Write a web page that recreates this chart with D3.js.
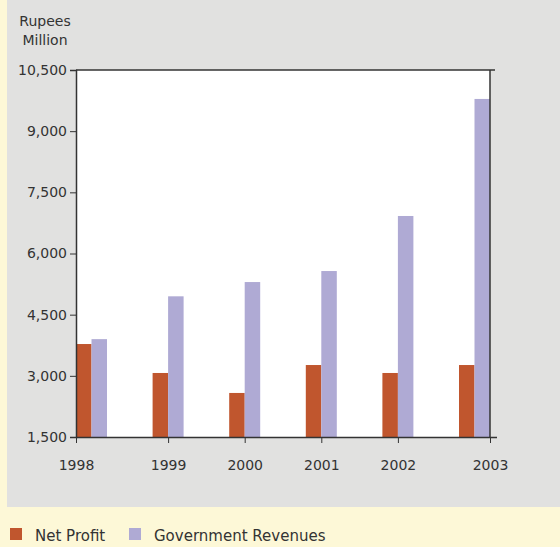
<!DOCTYPE html>
<html>
<head>
<meta charset="utf-8">
<script src="https://cdn.jsdelivr.net/npm/d3@7"></script>
<style>
  html, body { margin: 0; padding: 0; background: #fdf8d7; }
  svg { display: block; }
  text { font-family: "DejaVu Sans", sans-serif; fill: #333; }
</style>
</head>
<body>
<svg id="chart" width="560" height="547"></svg>
<script>
// Annual figures, Rupees Million
const years = ["1998", "1999", "2000", "2001", "2002", "2003"];
const netProfit = [3780, 3070, 2580, 3265, 3070, 3265];
const govRevenues = [3900, 4950, 5300, 5570, 6920, 9790];
const yTicks = [1500, 3000, 4500, 6000, 7500, 9000, 10500];
const seriesNames = ["Net Profit", "Government Revenues"];
const seriesColors = ["#c0562e", "#afaad4"];

const svg = d3.select("#chart");
const W = 560, H = 547;
const plot = { left: 76, top: 70, right: 490, bottom: 437 };
const barW = 15.5;

// grey panel behind the chart
svg.append("rect")
  .attr("x", 7).attr("y", 0).attr("width", W - 7).attr("height", 507)
  .attr("fill", "#e1e1e0");

// white plotting area
svg.append("rect")
  .attr("x", plot.left).attr("y", plot.top)
  .attr("width", plot.right - plot.left).attr("height", plot.bottom - plot.top)
  .attr("fill", "#fff");

const y = d3.scaleLinear()
  .domain([yTicks[0], yTicks[yTicks.length - 1]])
  .range([plot.bottom, plot.top]);

// group centres: first group sits against the left edge, last against the right
const xGroup = d3.scalePoint()
  .domain(years)
  .range([plot.left + barW, plot.right - barW]);

// category ticks: ends pinned to the frame, the rest at group centres
const xTick = d3.scaleOrdinal()
  .domain(years)
  .range(years.map((yr, i) => i === 0 ? plot.left : i === years.length - 1 ? plot.right : xGroup(yr)));

// bars
const series = [netProfit, govRevenues];
series.forEach((vals, s) => {
  svg.append("g")
    .selectAll("rect")
    .data(years)
    .join("rect")
    .attr("x", (d) => xGroup(d) + (s === 0 ? -barW : 0))
    .attr("y", (d, i) => y(vals[i]))
    .attr("width", barW)
    .attr("height", (d, i) => y(yTicks[0]) - y(vals[i]))
    .attr("fill", seriesColors[s]);
});

// frame: top and right edges
svg.append("line")
  .attr("x1", plot.left).attr("x2", plot.right + 5)
  .attr("y1", plot.top).attr("y2", plot.top)
  .attr("stroke", "#333").attr("stroke-width", 1.5);
svg.append("line")
  .attr("x1", plot.right).attr("x2", plot.right)
  .attr("y1", plot.top).attr("y2", plot.bottom)
  .attr("stroke", "#333").attr("stroke-width", 1.5);

// y axis
const yAxis = svg.append("g")
  .attr("transform", `translate(${plot.left},0)`)
  .call(d3.axisLeft(y).tickValues(yTicks).tickSize(6).tickPadding(3).tickFormat(d3.format(",")));
yAxis.select(".domain").attr("stroke", "#333").attr("stroke-width", 1.5);
yAxis.selectAll(".tick line").attr("stroke", "#333");
yAxis.selectAll("text").attr("font-size", 14).attr("font-family", "DejaVu Sans, sans-serif").attr("fill", "#333");

// x axis
const xAxis = svg.append("g")
  .attr("transform", `translate(0,${plot.bottom})`)
  .call(d3.axisBottom(xTick).tickSize(6).tickPadding(17).tickSizeOuter(0));
xAxis.select(".domain").attr("stroke", "#333").attr("stroke-width", 1.5)
  .attr("d", `M${plot.left},0.5H${plot.right + 7}`);
xAxis.selectAll(".tick line").attr("stroke", "#333");
xAxis.selectAll("text").attr("font-size", 14).attr("font-family", "DejaVu Sans, sans-serif").attr("fill", "#333");

// unit label
const unit = svg.append("text")
  .attr("x", 45).attr("y", 26)
  .attr("text-anchor", "middle")
  .attr("font-size", 14);
unit.append("tspan").attr("x", 45).attr("dy", 0).text("Rupees");
unit.append("tspan").attr("x", 45).attr("dy", 19).text("Million");

// legend
const legendX = [10, 129];
seriesNames.forEach((name, i) => {
  svg.append("rect")
    .attr("x", legendX[i]).attr("y", 528)
    .attr("width", 12).attr("height", 12)
    .attr("fill", seriesColors[i]);
  svg.append("text")
    .attr("x", legendX[i] + 25).attr("y", 541)
    .attr("font-size", 15)
    .text(name);
});
</script>
</body>
</html>
